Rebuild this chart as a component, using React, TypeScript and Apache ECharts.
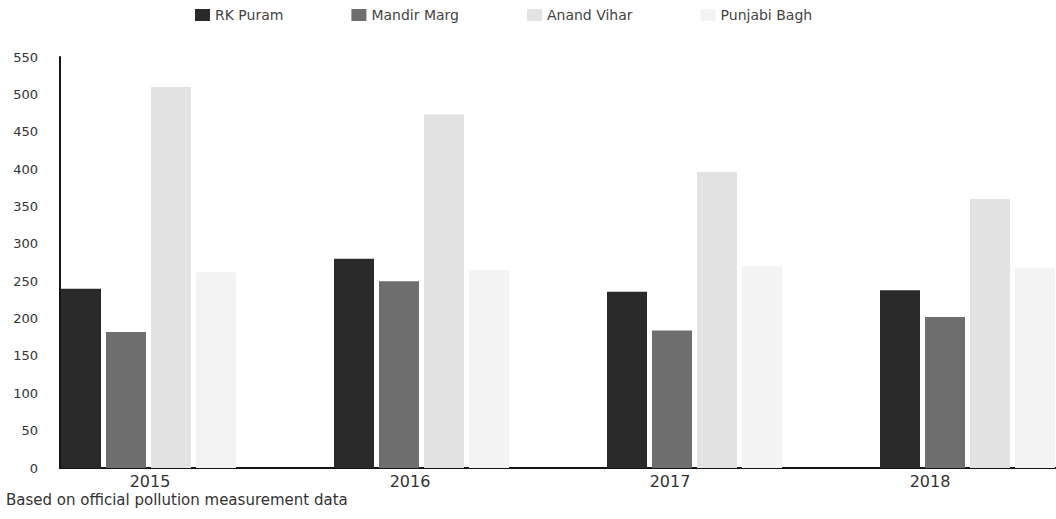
import React, { useEffect, useRef } from "react";
import * as echarts from "echarts";

const years = ["2015", "2016", "2017", "2018"];
const seriesNames = ["RK Puram", "Mandir Marg", "Anand Vihar", "Punjabi Bagh"];
const rkPuram = [240, 280, 236, 238];
const mandirMarg = [182, 250, 184, 202];
const anandVihar = [510, 473, 396, 360];
const punjabiBagh = [262, 265, 270, 268];
const seriesColors = ["#2a2a2a", "#6e6e6e", "#e2e2e2", "#f3f3f3"];
const sourceNote = "Based on official pollution measurement data";

const FONT = "'DejaVu Sans', 'Open Sans', sans-serif";

export default function App() {
  const ref = useRef<HTMLDivElement>(null);
  useEffect(() => {
    if (!ref.current) return;
    const chart = echarts.init(ref.current, undefined, { renderer: "svg" });
    const values = [rkPuram, mandirMarg, anandVihar, punjabiBagh];
    chart.setOption({
      animation: false,
      backgroundColor: "#ffffff",
      textStyle: { fontFamily: FONT },
      title: {
        text: sourceNote,
        left: 6,
        bottom: 12,
        padding: 0,
        textStyle: { fontFamily: FONT, fontSize: 15, fontWeight: "normal", color: "#333" },
      },
      legend: {
        data: seriesNames,
        top: 8,
        left: 195,
        padding: 0,
        itemGap: 68,
        itemWidth: 15,
        itemHeight: 12,
        icon: "rect",
        textStyle: { fontFamily: FONT, fontSize: 14, color: "#444" },
      },
      grid: [
        { left: 12, top: 57, bottom: 51, width: 1092, outerBoundsMode: "none", containLabel: false },
        { left: 60, top: 57, bottom: 51, right: 0, outerBoundsMode: "none", containLabel: false },
        { left: 20, top: 57, bottom: 51, width: 1040, outerBoundsMode: "none", containLabel: false },
      ],
      xAxis: [
        { gridIndex: 0, type: "category", data: years, show: false },
        {
          gridIndex: 1,
          type: "value",
          min: 0,
          max: 1,
          axisLine: { show: true, lineStyle: { color: "#151515", width: 2 } },
          axisTick: { show: false },
          axisLabel: { show: false },
          splitLine: { show: false },
        },
        {
          gridIndex: 2,
          type: "category",
          data: years,
          axisLine: { show: false },
          axisTick: { show: false },
          axisLabel: { fontFamily: FONT, fontSize: 16, color: "#333", margin: 5 },
        },
      ],
      yAxis: [
        { gridIndex: 0, type: "value", min: 0, max: 550, show: false },
        {
          gridIndex: 1,
          type: "value",
          min: 0,
          max: 550,
          interval: 50,
          axisLine: { show: true, lineStyle: { color: "#151515", width: 2 } },
          axisTick: { show: false },
          splitLine: { show: false },
          axisLabel: { fontFamily: FONT, fontSize: 13, color: "#333", margin: 22 },
        },
        { gridIndex: 2, type: "value", min: 0, max: 550, show: false },
      ],
      series: seriesNames.map((name, i) => ({
        name,
        type: "bar",
        xAxisIndex: 0,
        yAxisIndex: 0,
        data: values[i],
        barWidth: 40,
        barGap: "12.5%",
        itemStyle: { color: seriesColors[i] },
      })),
    });
    return () => chart.dispose();
  }, []);
  return (
    <div
      ref={ref}
      style={{ position: "fixed", left: 0, top: 0, width: 1056, height: 519 }}
    />
  );
}
